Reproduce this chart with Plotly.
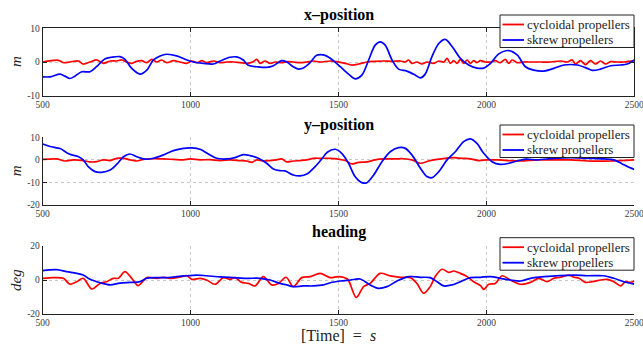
import plotly.graph_objects as go

# ---------------- data ----------------
t_xpos_skrew = [500,525,559,575,592,609,632,660,682,710,
                733,761,778,801,829,852,874,897,919,953,
                987,1009,1043,1077,1100,1133,1156,1178,1195,1224,
                1257,1280,1308,1325,1347,1364,1381,1404,1426,1449,
                1471,1506,1534,1556,1579,1602,1624,1641,1658,1681,
                1703,1731,1760,1777,1793,1816,1839,1861,1884,1912,
                1940,1968,1991,2014,2042,2076,2104,2132,2160,2194,
                2228,2262,2307,2341,2358,2386,2420,2454,2476,2500]
xpos_skrew = [-4.4,-4.4,-3.6,-4.2,-4.9,-4.2,-2.9,-2.9,-1.4,0.9,
              1.4,1.6,0.8,-1.9,-3.6,-2.4,0.6,1.8,2.3,1.8,
              0.6,0.0,-0.4,-0.6,0.3,1.4,1.5,0.6,-1.0,-1.4,
              -1.6,-1.1,0.4,0.0,-1.4,-2.1,-1.8,-0.2,2.0,2.1,
              1.2,-1.4,-3.6,-5.0,-3.9,0.6,5.0,6.0,5.0,0.6,
              -2.1,-2.7,-3.9,-4.7,-3.6,1.6,5.5,6.7,4.6,1.1,
              -0.9,-1.8,-1.8,-0.4,2.4,3.4,2.1,-1.4,-2.4,-2.7,
              -1.9,-0.9,-0.9,-1.9,-2.5,-2.1,-1.1,-0.9,-0.6,0.6]

t_xpos_cyc = [500,553,570,592,621,637,660,683,705,728,
              750,767,784,801,818,835,852,869,885,902,
              919,942,964,987,1004,1021,1038,1054,1077,1100,
              1122,1145,1167,1190,1212,1224,1235,1252,1269,1286,
              1308,1325,1347,1370,1393,1415,1438,1471,1494,1523,
              1545,1568,1596,1624,1652,1681,1709,1726,1737,1748,
              1765,1782,1799,1822,1839,1856,1867,1878,1889,1901,
              1912,1923,1935,1946,1957,1968,1980,1997,2014,2030,
              2047,2064,2076,2087,2104,2126,2149,2183,2217,2251,
              2273,2290,2301,2318,2335,2352,2369,2386,2403,2420,
              2442,2465,2488,2500]
xpos_cyc = [0.0,0.5,-0.2,0.0,0.3,-0.6,0.0,0.6,-0.4,0.3,
            0.3,0.6,0.0,-0.4,0.2,0.4,-0.2,0.8,0.0,0.6,
            -0.2,0.4,0.0,-0.4,0.3,-0.2,0.4,-0.2,0.3,-0.2,
            0.0,0.0,-0.2,-0.4,0.1,0.8,-0.4,0.3,-0.4,0.0,
            -0.2,0.1,0.0,-0.2,0.0,0.3,0.0,0.3,0.1,-0.4,
            -0.9,-0.6,0.0,0.2,0.3,0.2,0.3,0.0,0.6,-0.4,
            0.0,-0.6,0.0,-0.4,0.3,0.0,1.1,-0.4,0.4,-0.4,
            0.8,-0.4,0.6,-0.4,0.4,-0.2,0.4,0.0,0.0,0.4,
            -0.2,0.8,-0.4,0.6,-0.2,0.0,0.0,0.0,0.0,0.3,
            0.0,0.6,-0.6,0.4,-0.8,0.4,-0.6,0.3,-0.6,0.1,
            0.0,0.0,0.3,0.4]

t_ypos_skrew = [500,525,559,581,598,621,637,654,677,699,
                728,750,773,795,818,846,874,908,942,976,
                1004,1032,1060,1088,1122,1150,1178,1201,1229,1257,
                1280,1302,1319,1347,1370,1393,1421,1443,1462,1489,
                1511,1534,1556,1579,1596,1619,1647,1675,1703,1726,
                1748,1777,1799,1816,1839,1867,1895,1923,1946,1968,
                1991,2019,2047,2076,2104,2132,2172,2228,2284,2341,
                2397,2431,2459,2482,2500]
ypos_skrew = [7.0,5.9,5.0,3.2,2.2,1.4,0.0,-3.0,-5.2,-5.5,
              -4.5,-2.0,1.4,2.6,1.4,0.3,0.7,2.2,4.1,5.1,
              5.3,4.7,2.6,0.7,0.4,1.0,2.3,1.9,0.7,-1.5,
              -4.0,-4.8,-4.9,-6.7,-7.1,-6.3,-3.0,0.3,3.4,4.7,
              2.9,-1.5,-7.4,-10.1,-10.1,-6.7,-0.8,3.6,5.4,5.1,
              2.2,-3.7,-7.4,-7.9,-5.2,0.0,3.6,8.1,9.3,7.3,
              2.9,-0.8,-2.0,-1.5,-0.5,0.3,0.0,0.7,1.0,0.7,
              0.4,0.0,-1.8,-3.3,-4.2]

t_ypos_cyc = [500,547,575,604,637,660,683,705,728,750,
              773,795,818,840,874,908,942,976,998,1032,
              1066,1100,1133,1167,1190,1207,1224,1246,1269,1291,
              1308,1325,1347,1370,1393,1415,1438,1471,1500,1523,
              1545,1568,1596,1624,1652,1686,1720,1748,1777,1805,
              1833,1861,1889,1918,1946,1974,2002,2036,2070,2115,
              2172,2228,2284,2341,2386,2420,2454,2500]
ypos_cyc = [0.2,0.4,-0.5,0.0,-0.3,-0.9,-0.8,0.0,-0.3,0.7,
            0.7,0.0,-0.5,0.2,0.5,0.4,0.2,0.0,0.4,0.0,
            0.1,-0.3,0.0,-0.3,-0.5,-1.1,0.0,-0.5,-0.3,0.0,
            0.4,-0.9,-0.5,-0.3,0.0,0.7,0.7,0.7,0.3,-0.3,
            -1.8,-1.1,-0.9,0.0,0.4,0.4,0.5,0.0,-1.5,-0.5,
            0.2,0.7,1.0,0.7,0.4,-0.3,0.0,0.0,-0.3,-0.5,
            0.0,0.0,0.0,-0.5,-0.6,-0.5,-0.3,0.0]

t_head_skrew = [500,547,581,615,637,660,694,728,761,795,
                829,852,885,919,953,987,1021,1054,1100,1145,
                1190,1235,1269,1302,1325,1347,1381,1415,1449,1472,
                1506,1540,1573,1607,1635,1664,1698,1737,1777,1810,
                1833,1856,1884,1912,1946,1980,2014,2047,2081,2115,
                2149,2194,2239,2296,2341,2397,2431,2465,2500]
head_skrew = [5.5,6.1,4.9,3.9,2.9,0.4,-1.6,-2.9,-1.8,-1.4,
              -1.0,1.0,1.4,1.4,2.0,2.5,2.9,2.5,1.8,1.4,
              1.0,1.0,0.0,-2.0,-2.9,-3.9,-3.5,-3.5,-2.9,-1.6,
              -0.6,0.0,0.6,-2.9,-4.9,-3.9,-0.6,2.0,1.6,1.4,
              -1.0,-3.5,-2.9,-1.0,1.4,1.6,2.0,1.0,0.0,-0.6,
              1.0,2.0,2.5,2.9,2.5,2.5,1.0,-1.0,-2.4]

t_head_cyc = [500,536,570,592,615,637,666,694,716,739,
              756,778,801,823,852,885,908,931,964,987,
              1004,1032,1054,1083,1111,1133,1150,1173,1195,1218,
              1246,1274,1297,1323,1347,1376,1404,1438,1471,1500,
              1530,1560,1585,1607,1641,1675,1709,1743,1765,1788,
              1810,1827,1850,1873,1889,1912,1935,1957,1980,1991,
              2008,2030,2053,2081,2115,2149,2177,2205,2228,2251,
              2279,2296,2313,2335,2358,2386,2408,2431,2454,2470,
              2488,2500]
head_cyc = [1.0,1.4,1.0,-2.5,-1.0,1.0,-5.3,-2.0,-1.0,1.0,
            1.0,4.9,1.0,-3.3,1.4,1.0,1.6,1.0,1.8,2.5,
            0.4,1.0,0.0,-2.5,1.4,0.4,1.4,-1.4,-2.0,-3.5,
            2.0,-2.9,-2.0,1.6,-3.9,1.4,2.0,3.9,1.4,2.0,
            0.6,-10.2,-3.9,-2.0,3.9,2.4,1.6,1.4,-2.0,-7.8,
            -3.9,2.0,6.3,4.5,5.3,3.9,2.0,-1.0,-3.3,-5.5,
            -2.5,-2.0,2.5,0.0,-2.5,-1.4,1.0,-1.0,1.0,1.6,
            2.9,1.6,1.0,-1.4,-1.0,0.0,0.4,-1.0,-3.5,-1.0,
            -1.4,-0.6]

series_names = ["cycloidal propellers", "skrew propellers"]
panel_titles = ["x\u2013position", "y\u2013position", "heading"]
y_labels = ["m", "m", "deg"]
x_ticks = [500, 1000, 1500, 2000, 2500]
y_ticks = [[-10, 0, 10], [-20, -10, 0, 10], [-20, 0, 20]]
y_ranges = [[-10, 10], [-20, 10], [-20, 20]]
x_label = "[Time] = <i>s</i>"

# ---------------- layout helpers ----------------
W, H = 643, 345
def PX(x): return x / W
def PY(y): return 1 - y / H

RED, BLUE = "#ff0000", "#0000ff"
SERIF = "Liberation Serif, Times New Roman, serif"
x_dom = [PX(42.7), PX(634.3)]
panels = [(28.3, 95.7), (137.3, 205.0), (246.0, 314.0)]
title_y = [15, 125, 232]
legend_top = [15, 125, 237.7]

fig = go.Figure()
data = [
    (t_xpos_cyc, xpos_cyc, t_xpos_skrew, xpos_skrew),
    (t_ypos_cyc, ypos_cyc, t_ypos_skrew, ypos_skrew),
    (t_head_cyc, head_cyc, t_head_skrew, head_skrew),
]
for i, (tc, vc, ts, vs) in enumerate(data):
    sfx = "" if i == 0 else str(i + 1)
    fig.add_trace(go.Scatter(x=tc, y=vc, mode="lines", name=series_names[0],
                             line=dict(color=RED, width=1.7, shape="spline", smoothing=0.9),
                             xaxis="x" + sfx, yaxis="y" + sfx, showlegend=False))
    fig.add_trace(go.Scatter(x=ts, y=vs, mode="lines", name=series_names[1],
                             line=dict(color=BLUE, width=1.7, shape="spline", smoothing=0.9),
                             xaxis="x" + sfx, yaxis="y" + sfx, showlegend=False))

layout = dict(width=W, height=H, margin=dict(l=0, r=0, t=0, b=0, autoexpand=False),
              paper_bgcolor="white", plot_bgcolor="white", showlegend=False)
tickfont = dict(family=SERIF, size=9.5, color="#3a3a3a")
GRID = "#c8c8c8"
for i, (top, bot) in enumerate(panels):
    sfx = "" if i == 0 else str(i + 1)
    box = "ticks" if i == 0 else False
    layout["xaxis" + sfx] = dict(
        domain=x_dom, range=[500, 2500], tickvals=x_ticks,
        ticktext=[str(v) for v in x_ticks], ticks="inside", ticklen=4,
        tickcolor="#222", showline=True, linecolor="#222", linewidth=1, mirror=box,
        showgrid=True, gridcolor=GRID, griddash="dot", gridwidth=1,
        zeroline=False, tickfont=tickfont, anchor="y" + sfx, fixedrange=True,
        automargin=False, ticklabeloverflow="allow")
    layout["yaxis" + sfx] = dict(
        domain=[PY(bot), PY(top)], range=y_ranges[i], tickvals=y_ticks[i],
        ticktext=[str(v) for v in y_ticks[i]], ticks="inside",
        ticklen=4, tickcolor="#222", showline=True, linecolor="#222", linewidth=1, mirror=box,
        showgrid=True, gridcolor=GRID, griddash="dot", gridwidth=1,
        zeroline=False, tickfont=tickfont, anchor="x" + sfx, fixedrange=True,
        automargin=False)
fig.update_layout(**layout)

ann = []
shapes = []
for i, (top, bot) in enumerate(panels):
    ann.append(dict(text="<b>%s</b>" % panel_titles[i], x=PX(338.5), y=PY(title_y[i]),
                    xref="paper", yref="paper", xanchor="center", yanchor="middle",
                    showarrow=False, font=dict(family=SERIF, size=16, color="black")))
    ann.append(dict(text="<i>%s</i>" % y_labels[i], x=PX(16), y=PY((top + bot) / 2),
                    xref="paper", yref="paper", xanchor="center", yanchor="middle",
                    textangle=-90, showarrow=False,
                    font=dict(family=SERIF, size=15, color="#222")))
    # legend box
    lt = legend_top[i]
    shapes.append(dict(type="rect", xref="paper", yref="paper",
                       x0=PX(500), x1=PX(634), y0=PY(lt + 32.5), y1=PY(lt),
                       line=dict(color="#222", width=1), fillcolor="white", layer="above"))
    for j, col in enumerate([RED, BLUE]):
        yy = lt + 9.5 + j * 15.5
        shapes.append(dict(type="line", xref="paper", yref="paper",
                           x0=PX(502.5), x1=PX(524), y0=PY(yy), y1=PY(yy),
                           line=dict(color=col, width=1.8), layer="above"))
        ann.append(dict(text=series_names[j], x=PX(525), y=PY(yy),
                        xref="paper", yref="paper", xanchor="left", yanchor="middle",
                        showarrow=False, font=dict(family=SERIF, size=13, color="#222")))

ann.append(dict(text=x_label.replace(" = ", "&nbsp;&nbsp;=&nbsp;&nbsp;"), x=PX(338.5), y=PY(335),
                xref="paper", yref="paper",
                xanchor="center", yanchor="middle", showarrow=False,
                font=dict(family=SERIF, size=16, color="#222")))
fig.update_layout(annotations=ann, shapes=shapes)

fig.write_html("out.html")
